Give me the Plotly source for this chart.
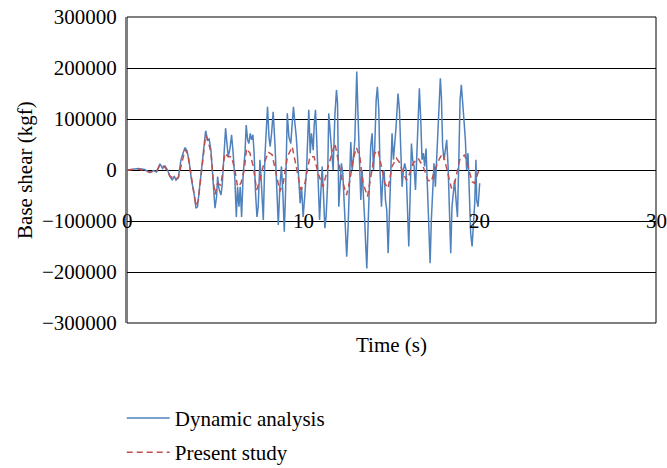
import plotly.graph_objects as go

# Dynamic analysis (time s, base shear kgf)
dyn_t = [0.0, 0.3, 0.64, 1.0, 1.30, 1.49, 1.68, 1.87, 2.02, 2.15, 2.30, 2.44, 2.57, 2.68, 2.78, 2.91,
         3.06, 3.15, 3.29, 3.40, 3.51, 3.66, 3.80, 3.91, 4.00, 4.08, 4.23, 4.36, 4.46, 4.57, 4.66,
         4.76, 4.85, 4.99, 5.08, 5.14, 5.21, 5.33, 5.40, 5.50, 5.59, 5.67, 5.74, 5.84, 5.93, 6.02,
         6.12, 6.20, 6.27, 6.35, 6.42, 6.50, 6.59, 6.69, 6.76, 6.84, 6.91, 6.99, 7.06, 7.14, 7.21,
         7.29, 7.37, 7.44, 7.54, 7.63, 7.73, 7.82, 7.91, 7.97, 8.05, 8.12, 8.20, 8.29, 8.39, 8.46,
         8.54, 8.58, 8.67, 8.76, 8.84, 8.92, 8.99, 9.09, 9.18, 9.29, 9.37, 9.44, 9.52, 9.60, 9.67,
         9.75, 9.82, 9.90, 9.99, 10.09, 10.18, 10.31, 10.39, 10.46, 10.56, 10.61, 10.69, 10.76,
         10.84, 10.92, 10.99, 11.07, 11.14, 11.22, 11.29, 11.37, 11.44, 11.52, 11.60, 11.69, 11.79,
         11.88, 11.94, 12.01, 12.09, 12.16, 12.24, 12.31, 12.39, 12.46, 12.54, 12.62, 12.69, 12.77,
         12.84, 12.92, 12.98, 13.03, 13.11, 13.18, 13.26, 13.33, 13.41, 13.48, 13.54, 13.60, 13.67,
         13.75, 13.82, 13.90, 13.98, 14.05, 14.13, 14.20, 14.28, 14.35, 14.43, 14.50, 14.58, 14.66,
         14.73, 14.81, 14.88, 14.96, 15.03, 15.11, 15.19, 15.26, 15.37, 15.45, 15.52, 15.60, 15.68,
         15.75, 15.83, 15.90, 15.98, 16.05, 16.13, 16.20, 16.28, 16.36, 16.43, 16.51, 16.58, 16.66,
         16.73, 16.81, 16.88, 16.96, 17.04, 17.11, 17.19, 17.26, 17.34, 17.41, 17.49, 17.56, 17.64,
         17.72, 17.77, 17.83, 17.90, 17.98, 18.06, 18.13, 18.21, 18.28, 18.36, 18.43, 18.51, 18.58,
         18.66, 18.74, 18.81, 18.89, 18.96, 19.04, 19.11, 19.19, 19.26, 19.34, 19.42, 19.49, 19.57,
         19.64, 19.72, 19.79, 19.83, 19.91, 20.00]
dyn_v = [0, 1000, 3000, 1000, -5000, -1000, -4000, 12000, 3000, 8000, 0, -13000, -20000, -12000, -20000, -15000,
         20000, 30000, 44000, 38000, 20000, -20000, -46000, -75000, -72000, -46000, 0, 46000, 77000, 59000, 61000,
         39000, 0, -75000, -52000, -13000, -36000, -49000, -29000, 20000, 82000, 52000, 26000, 42000, 69000, 33000,
         -20000, -92000, -33000, -72000, -33000, -92000, -7000, 33000, 88000, 59000, 52000, 72000, 59000, 69000, 33000,
         -46000, -92000, -72000, 20000, -33000, -98000, 26000, 85000, 124000, 65000, 46000, 72000, 114000, 52000, -7000,
         -65000, -108000, -33000, 7000, -46000, -121000, -46000, 111000, 65000, 52000, 92000, 124000, 92000, 65000, 26000,
         -20000, -65000, -33000, -92000, -46000, 0, 118000, 33000, 72000, 39000, 85000, 118000, 59000,
         -7000, -98000, -46000, 7000, -46000, -114000, -92000, -33000, 111000, 72000, 39000, 0, 108000,
         157000, 131000, -72000, -26000, 13000, -7000, -59000, -92000, -170000, -111000, -26000, 55000, 0,
         20000, 59000, 131000, 193000, 98000, 33000, -59000, 0, -46000, -98000, -150000, -193000, -111000,
         -33000, 46000, 72000, 0, 46000, 137000, 163000, 118000, 0, -72000, -20000, 0, -59000,
         -78000, -163000, -78000, 20000, 72000, 20000, 52000, 85000, 150000, 118000, 46000, -33000, 0,
         13000, 0, -59000, -150000, -59000, 52000, 20000, 7000, -39000, 39000, 118000, 160000, 98000,
         20000, 33000, 7000, 42000, -33000, -98000, -183000, -98000, -20000, 13000, -33000, 20000, 85000,
         131000, 180000, 144000, 46000, 20000, 46000, 59000, 7000, -65000, -163000, -72000, -39000, -20000,
         -59000, -92000, 7000, 137000, 167000, 137000, 98000, 59000, 0, 33000, -33000, -124000, -150000,
         -98000, -65000, 20000, -59000, -72000, -26000]

# Present study
pre_t = [0.0, 0.64, 1.30, 1.68, 1.87, 2.15, 2.44, 2.72, 2.91, 3.10, 3.29, 3.44, 3.66, 3.91, 4.04,
         4.23, 4.46, 4.61, 4.76, 4.89, 4.99, 5.14, 5.33, 5.55, 5.74, 5.93, 6.12, 6.27, 6.46, 6.65,
         6.78, 6.97, 7.16, 7.35, 7.54, 7.72, 8.01, 8.23, 8.48, 8.67, 8.86, 9.10, 9.37, 9.61, 9.86,
         10.09, 10.37, 10.61, 10.84, 11.12, 11.41, 11.79, 11.97, 12.20, 12.45, 12.64, 12.82, 13.01,
         13.20, 13.39, 13.64, 13.82, 14.05, 14.24, 14.43, 14.62, 14.81, 15.03, 15.28, 15.45, 15.60,
         15.85, 16.03, 16.22, 16.51, 16.79, 17.07, 17.26, 17.45, 17.73, 17.92, 18.11, 18.40, 18.58,
         18.87, 19.15, 19.34, 19.57, 19.72, 19.91, 20.00]
pre_v = [0, 2000, -4000, -2000, 10000, 6000, -12000, -18000, -15000, 15000, 40000, 32000, -20000, -70000, -60000,
         0, 68000, 55000, 35000, -20000, -48000, -26000, -30000, 33000, 26000, 26000, 0, -33000, -26000, 0,
         42000, 33000, 7000, -39000, -20000, 7000, 35000, 30000, -13000, -42000, -26000, 26000, 46000, 7000, -39000,
         -26000, 26000, 26000, -7000, -33000, 7000, 52000, 20000, -20000, -49000, -20000, 20000, 44000,
         26000, -26000, -52000, -13000, 33000, 39000, 7000, -26000, -36000, 7000, 23000, 15000, 0,
         -20000, -7000, 13000, 23000, 7000, -20000, -23000, 0, 23000, 33000, 7000, -36000, -26000,
         20000, 30000, 7000, -23000, -26000, -5000, 0]

y_ticks = [-300000, -200000, -100000, 0, 100000, 200000, 300000]
x_ticks = [0, 10, 20, 30]

BLUE = "#4F81BD"
RED = "#C0504D"
FONT = "Liberation Serif"

fig = go.Figure()
fig.add_trace(go.Scatter(x=dyn_t, y=dyn_v, mode="lines", name="Dynamic analysis",
                         line=dict(color=BLUE, width=1.5), legendgroup="a"))
fig.add_trace(go.Scatter(x=pre_t, y=pre_v, mode="lines", name="Present study",
                         line=dict(color=RED, width=1.5, dash="6px,4px"), legendgroup="b"))

for xt in x_ticks:
    fig.add_annotation(x=xt, y=-100000, text=str(xt), showarrow=False, xref="x", yref="y",
                       font=dict(family=FONT, size=21, color="black"), xanchor="center", yanchor="middle")

fig.add_annotation(x=-0.193, y=0.5, xref="paper", yref="paper", text="Base shear (kgf)",
                   textangle=-90, showarrow=False, xanchor="center", yanchor="middle",
                   font=dict(family=FONT, size=21, color="black"))
fig.add_annotation(x=0.5, y=-0.072, xref="paper", yref="paper", text="Time (s)",
                   showarrow=False, xanchor="center", yanchor="middle",
                   font=dict(family=FONT, size=21, color="black"))

fig.add_shape(type="rect", xref="paper", yref="paper", x0=0, x1=1, y0=0, y1=1,
              line=dict(color="black", width=1), layer="below")

fig.update_layout(
    width=667, height=468,
    margin=dict(l=127, r=11, t=17, b=145, autoexpand=False),
    plot_bgcolor="white", paper_bgcolor="white",
    font=dict(family=FONT, size=20, color="black"),
    showlegend=True,
    legend=dict(xref="container", yref="container", x=0.1825, y=0.15, xanchor="left", yanchor="top",
                orientation="v",
                font=dict(family=FONT, size=21, color="black"), tracegroupgap=4, itemwidth=43,
                bgcolor="rgba(0,0,0,0)"),
    xaxis=dict(range=[0, 30], showgrid=False, zeroline=False, showticklabels=False,
               tickvals=x_ticks, ticks="", showline=False, automargin=False),
    yaxis=dict(range=[-300000, 300000], tickvals=y_ticks, tickformat="d", automargin=False,
               tickfont=dict(family=FONT, size=21, color="black"),
               showgrid=True, gridcolor="black", gridwidth=1, zeroline=False,
               showline=True, linecolor="#7f7f7f", linewidth=2, ticks="", ticklen=0,
               ticklabelstandoff=4),
)
fig.write_html("out.html")
